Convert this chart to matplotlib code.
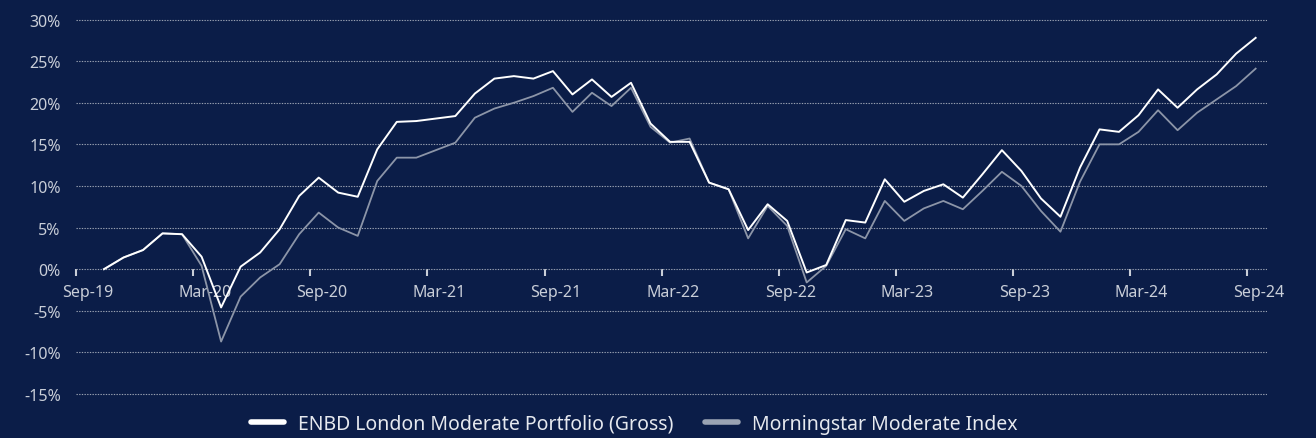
import numpy as np
import matplotlib
matplotlib.use("Agg")
import matplotlib.pyplot as plt
import matplotlib.transforms as mtransforms

plt.rcParams['font.family'] = ['Noto Sans', 'DejaVu Sans']

# cumulative returns (%), monthly
portfolio = [0.0, 1.4, 2.3, 4.3, 4.2, 1.5, -4.6, 0.3, 2.0, 4.8,
             8.8, 11.0, 9.2, 8.7, 14.4, 17.7, 17.8, 18.1, 18.4, 21.1,
             22.9, 23.2, 22.9, 23.8, 21.0, 22.8, 20.7, 22.4, 17.5, 15.3,
             15.3, 10.4, 9.6, 4.7, 7.8, 5.8, -0.4, 0.5, 5.9, 5.6,
             10.8, 8.1, 9.4, 10.2, 8.6, 11.4, 14.3, 11.8, 8.5, 6.3,
             12.2, 16.8, 16.5, 18.5, 21.6, 19.4, 21.6, 23.4, 25.9, 27.8]
index = [0.0, 1.4, 2.3, 4.3, 4.2, 0.4, -8.7, -3.3, -1.0, 0.6,
         4.2, 6.8, 5.0, 4.0, 10.6, 13.4, 13.4, 14.3, 15.2, 18.2,
         19.3, 20.0, 20.8, 21.8, 18.9, 21.2, 19.6, 21.8, 17.1, 15.2,
         15.7, 10.4, 9.6, 3.7, 7.6, 5.2, -1.6, 0.4, 4.8, 3.7,
         8.2, 5.8, 7.3, 8.2, 7.2, 9.4, 11.7, 10.0, 7.0, 4.5,
         10.5, 15.0, 15.0, 16.5, 19.1, 16.7, 18.8, 20.4, 22.0, 24.1]
tick_labels = ["Sep-19", "Mar-20", "Sep-20", "Mar-21", "Sep-21", "Mar-22",
               "Sep-22", "Mar-23", "Sep-23", "Mar-24", "Sep-24"]
series_names = ["ENBD London Moderate Portfolio (Gross)", "Morningstar Moderate Index"]

BG = "#0b1d48"
TXT = "#c9ced8"

fig = plt.figure(figsize=(13.16, 4.39), dpi=100, facecolor=BG)
ax = fig.add_axes([0.0578, 0.0813, 0.9048, 0.8909], facecolor=BG)

# months since Sep-19, first point sits a bit after the Sep-19 tick
x = np.arange(len(portfolio)) + 1.43
ax.plot(x, index, color="#8c95a8", lw=1.3, label=series_names[1], zorder=3)
ax.plot(x, portfolio, color="#ffffff", lw=1.4, label=series_names[0], zorder=4)

ax.set_xlim(0, 61)
ax.set_ylim(-16, 31)
ax.set_yticks(np.arange(-15, 31, 5))
ax.set_yticklabels([f"{v}%" for v in range(-15, 31, 5)])
ax.grid(axis='y', color="#9aa2b2", linestyle=(0, (1.2, 1.2)), linewidth=0.8)
ax.set_axisbelow(True)

for s in ax.spines.values():
    s.set_visible(False)
ax.spines['bottom'].set_position(('data', 0))

ax.set_xticks(np.arange(0, 61, 6))
ax.set_xticklabels(tick_labels)
ax.tick_params(axis='x', colors="#c9ced8", labelcolor=TXT, length=5, width=1.5,
               direction='out', pad=6, labelsize=11.5)
ax.tick_params(axis='y', length=0, labelcolor=TXT, labelsize=11.5, pad=11)
shift = mtransforms.ScaledTranslation(11.5 / 100, 0, fig.dpi_scale_trans)
for lab in ax.get_xticklabels():
    lab.set_transform(lab.get_transform() + shift)

handles, labels = ax.get_legend_handles_labels()
leg = fig.legend(handles[::-1], labels[::-1], loc='center', bbox_to_anchor=(0.482, 0.032),
                 ncol=2, frameon=False, fontsize=14, handlelength=1.7,
                 handletextpad=0.75, columnspacing=1.6)
for h, c in zip(leg.get_lines(), ["#ffffff", "#9aa3b3"]):
    h.set_linewidth(4)
    h.set_color(c)
    h.set_solid_capstyle('round')
for t in leg.get_texts():
    t.set_color("#e6e9ef")

fig.savefig("out.png", dpi=100, facecolor=BG)
